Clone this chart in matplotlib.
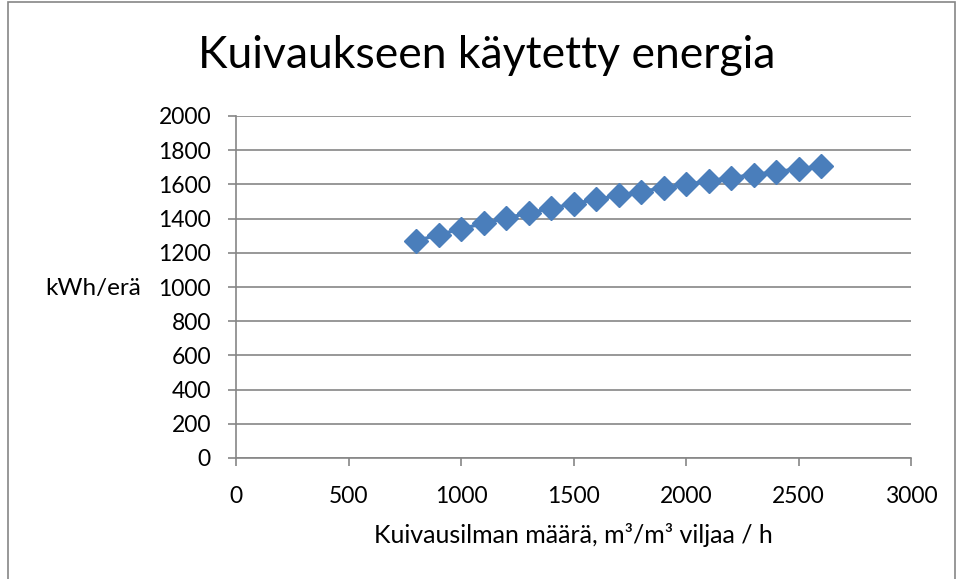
import matplotlib
matplotlib.use('Agg')
import matplotlib.pyplot as plt
from matplotlib.patches import Rectangle

plt.rcParams['font.family'] = ['Lato', 'DejaVu Sans']

# air flow (m3/m3 grain / h) and energy used for drying (kWh/batch)
airflow = [800, 900, 1000, 1100, 1200, 1300, 1400, 1500, 1600, 1700,
           1800, 1900, 2000, 2100, 2200, 2300, 2400, 2500, 2600]
energy = [1270, 1305, 1340, 1372, 1403, 1432, 1460, 1487, 1512, 1536,
          1558, 1580, 1600, 1620, 1639, 1657, 1674, 1691, 1707]

title = 'Kuivaukseen käytetty energia'
xlabel = 'Kuivausilman määrä, m³/m³ viljaa / h'
ylabel = 'kWh/erä'

fig = plt.figure(figsize=(9.59, 5.79), dpi=100)
ax = fig.add_axes([236 / 959, 1 - 458 / 579, 675 / 959, 342 / 579])

# outer chart frame
fig.patches.append(Rectangle((8 / 959, -0.01), 947 / 959, 1 - 2 / 579 + 0.01,
                             transform=fig.transFigure, fill=False,
                             edgecolor='#868686', linewidth=1.2))

ax.plot(airflow, energy, color='#4a7ebb', linewidth=2.4, marker='D',
        markersize=12, markeredgecolor='#4a7ebb', clip_on=False, zorder=3)

ax.set_xlim(0, 3000)
ax.set_ylim(0, 2000)
ax.set_xticks(range(0, 3001, 500))
ax.set_yticks(range(0, 2001, 200))
ax.yaxis.grid(True, color='#868686', linewidth=1.2)
ax.set_axisbelow(True)

for side in ['top', 'right']:
    ax.spines[side].set_visible(False)
for side in ['left', 'bottom']:
    ax.spines[side].set_color('#868686')
    ax.spines[side].set_linewidth(1.2)

ax.tick_params(axis='both', labelsize=16.5, colors='#868686', labelcolor='black',
               length=6, width=1.2, direction='out')
ax.tick_params(axis='x', pad=14)
ax.tick_params(axis='y', pad=12)

ax.set_xlabel(xlabel, fontsize=18, labelpad=12)
ax.set_ylabel(ylabel, fontsize=17.5, rotation=0, ha='left', va='center')
ax.yaxis.set_label_coords(-191 / 675, (458 - 289) / 342)

fig.text(487 / 959, 1 - 55 / 579, title, fontsize=32, ha='center', va='center')

fig.savefig('out.png', dpi=100)
